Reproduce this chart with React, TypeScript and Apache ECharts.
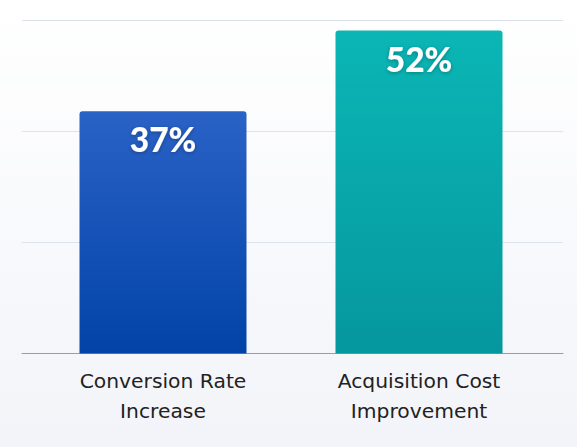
import React, { useEffect, useRef } from "react";
import * as echarts from "echarts";

const categories = ["Conversion Rate\nIncrease", "Acquisition Cost\nImprovement"];
const valueLabels = ["37%", "52%"];
const barValues = [43.6, 58.1];
const gridTicks = [0, 20, 40, 60];

const topColors = ["#2a62c6", "#0bb6b5"];
const bottomColors = ["#0243a8", "#05979e"];

export default function App() {
  const ref = useRef<HTMLDivElement>(null);
  useEffect(() => {
    document.body.style.margin = "0";
    if (!ref.current) return;
    const chart = echarts.init(ref.current, undefined, { renderer: "svg" });
    chart.setOption({
      animation: false,
      backgroundColor: {
        type: "linear",
        x: 0,
        y: 0,
        x2: 0,
        y2: 1,
        colorStops: [
          { offset: 0, color: "#ffffff" },
          { offset: 1, color: "#f2f4f9" },
        ],
      },
      grid: [
        { left: 22, right: 14, top: 20, bottom: 93.5 },
        { left: 35, right: 30, top: 20, bottom: 93.5 },
      ],
      xAxis: [
        {
          type: "category",
          gridIndex: 0,
          data: categories,
          axisLine: { show: true, lineStyle: { color: "#8aa0bc", width: 1 } },
          axisTick: { show: false },
          axisLabel: { show: false },
        },
        {
          type: "category",
          gridIndex: 1,
          data: categories,
          axisLine: { show: false },
          axisTick: { show: false },
          axisLabel: {
            show: true,
            margin: 12,
            fontFamily: "DejaVu Sans",
            fontSize: 20.3,
            lineHeight: 30,
            color: "#222222",
          },
        },
      ],
      yAxis: [
        {
          type: "value",
          gridIndex: 0,
          min: gridTicks[0],
          max: gridTicks[gridTicks.length - 1],
          interval: gridTicks[1] - gridTicks[0],
          axisLabel: { show: false },
          axisLine: { show: false },
          axisTick: { show: false },
          splitLine: { show: true, lineStyle: { color: "#dde3ec", width: 1 } },
        },
        {
          type: "value",
          gridIndex: 1,
          min: gridTicks[0],
          max: gridTicks[gridTicks.length - 1],
          show: false,
          splitLine: { show: false },
        },
      ],
      series: [
        {
          type: "bar",
          xAxisIndex: 1,
          yAxisIndex: 1,
          barWidth: 167,
          data: barValues.map((v, i) => ({
            value: v,
            itemStyle: {
              borderRadius: [3, 3, 0, 0],
              color: {
                type: "linear",
                x: 0,
                y: 0,
                x2: 0,
                y2: 1,
                colorStops: [
                  { offset: 0, color: topColors[i] },
                  { offset: 1, color: bottomColors[i] },
                ],
              },
            },
          })),
          label: {
            show: true,
            position: "insideTop",
            distance: 11,
            formatter: (p: any) => valueLabels[p.dataIndex],
            fontFamily: "Lato",
            fontWeight: 900,
            fontSize: 33.5,
            color: "#ffffff",
            textShadowColor: "rgba(0,0,0,0.3)",
            textShadowBlur: 4,
            textShadowOffsetY: 1,
          },
        },
      ],
    });
    return () => chart.dispose();
  }, []);
  return <div ref={ref} style={{ width: 577, height: 447 }} />;
}
